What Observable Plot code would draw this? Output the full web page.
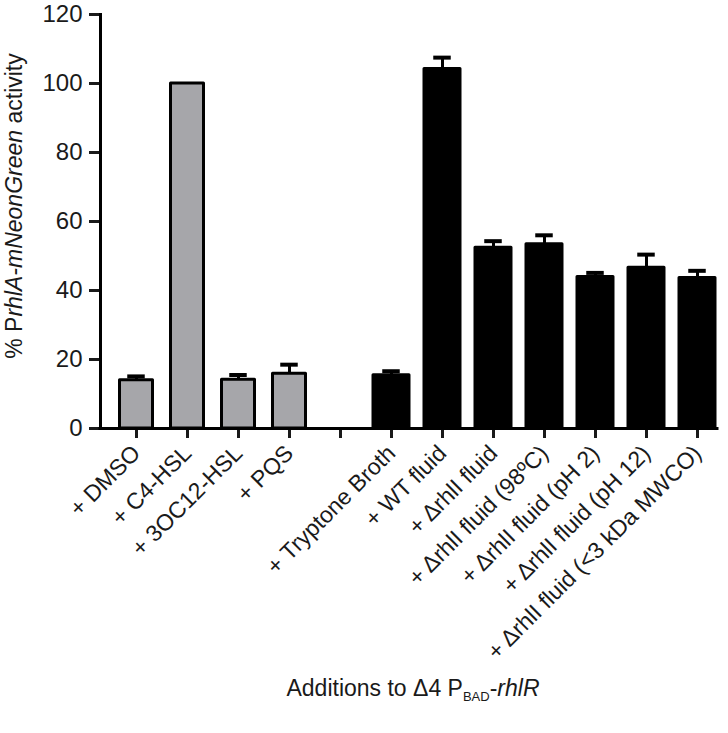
<!DOCTYPE html>
<html><head><meta charset="utf-8">
<script src="https://cdn.jsdelivr.net/npm/d3@7"></script>
<script src="https://cdn.jsdelivr.net/npm/@observablehq/plot@0.6"></script>
<style>body{margin:0;background:#fff}</style>
</head><body><div id="chart"></div>
<script>
const categories = ["+ DMSO","+ C4-HSL","+ 3OC12-HSL","+ PQS","gap","+ Tryptone Broth","+ WT fluid","+ ΔrhlI fluid","+ ΔrhlI fluid (98ºC)","+ ΔrhlI fluid (pH 2)","+ ΔrhlI fluid (pH 12)","+ ΔrhlI fluid (<3 kDa MWCO)"];
const groups = ["signal","signal","signal","signal",null,"fluid","fluid","fluid","fluid","fluid","fluid","fluid"];
const means = [14.0,100,14.1,15.9,null,15.4,104.2,52.4,53.4,43.9,46.6,43.6];
const errors = [1.1,0,1.4,2.6,null,1.2,3.3,1.9,2.6,1.2,3.8,2.1];
const yTicks = [0,20,40,60,80,100,120];

const rows = categories.map((c,i)=>({cat:c, group:groups[i], mean:means[i], top: means[i]==null?null:means[i]+errors[i]})).filter(d=>d.mean!=null);
const gray = "#a6a6aa";

const plot = Plot.plot({
  width: 728, height: 733,
  marginTop: 14, marginBottom: 305, marginLeft: 100, marginRight: 11,
  style: {fontFamily: "'Liberation Sans', Arial, sans-serif", fontSize: "23px", color: "#1a1a1a", background: "#fff", overflow: "visible"},
  x: {domain: categories, padding: 0.295, paddingOuter: 0.103, align: 0.91, label: null},
  y: {domain: [0,120], label: null},
  marks: [
    Plot.ruleX(rows, {x: "cat", y1: "mean", y2: "top", stroke: "black", strokeWidth: 3}),
    Plot.tickY(rows.filter(d=>d.top>d.mean), {x: "cat", y: "top", stroke: "black", strokeWidth: 4, insetLeft: 9.25, insetRight: 9.25}),
    Plot.barY(rows.filter(d=>d.group==="signal"), {x: "cat", y: "mean", fill: gray, stroke: "black", strokeWidth: 3, strokeLinejoin: "round", insetLeft: 1.5, insetRight: 1.5}),
    Plot.barY(rows.filter(d=>d.group==="fluid"), {x: "cat", y: "mean", fill: "black", stroke: "black", strokeWidth: 3, strokeLinejoin: "round", insetLeft: 0, insetRight: 0}),
    Plot.axisY({ticks: yTicks, tickSize: 11, strokeWidth: 3, tickPadding: 7, fontSize: 24, fill: "#1a1a1a", label: null}),
    Plot.axisX({tickSize: 10, strokeWidth: 3, tickRotate: -45, tickPadding: 11, fontSize: 23, fill: "#1a1a1a", label: null, tickFormat: d => d === "gap" ? "" : d}),
    Plot.ruleY([0], {stroke: "black", strokeWidth: 3, strokeLinecap: "square"}),
    Plot.frame({anchor: "left", stroke: "black", strokeWidth: 3, strokeLinecap: "square"})
  ]
});

const svg = d3.select(plot);
const yt = svg.append("text")
  .attr("transform", "translate(22,206) rotate(-90)")
  .attr("text-anchor", "middle")
  .attr("font-size", 23)
  .attr("fill", "#1a1a1a");
yt.append("tspan").text("% P");
yt.append("tspan").attr("font-style", "italic").text("rhlA-mNeonGreen");
yt.append("tspan").text(" activity");

const xt = svg.append("text")
  .attr("x", 413).attr("y", 696)
  .attr("text-anchor", "middle")
  .attr("font-size", 23)
  .attr("fill", "#1a1a1a");
xt.append("tspan").text("Additions to Δ4 P");
xt.append("tspan").attr("font-size", 13).attr("dy", 5).text("BAD");
xt.append("tspan").attr("dy", -5).text("-");
xt.append("tspan").attr("font-style", "italic").text("rhlR");

document.getElementById("chart").appendChild(plot);
</script>
</body></html>
